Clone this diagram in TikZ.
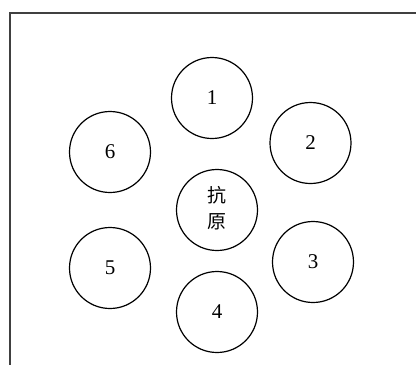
\documentclass[tikz,border=0pt]{standalone}
\usepackage{fontspec}
\setmainfont{Liberation Serif}
\newfontfamily\cjk{Noto Sans CJK SC}
\begin{document}
\begin{tikzpicture}[x=1pt,y=-1pt,
  ring/.style={circle,draw,line width=1.2pt,minimum size=81pt,inner sep=0pt,font=\fontsize{21}{23}\selectfont},
  frame/.style={line width=1.3pt,draw=black!75}]
\useasboundingbox (0,0) rectangle (416,365);
\coordinate (tr) at (416,13);
\coordinate (tl) at (10,13);
\coordinate (bl) at (10,365);
\draw[frame] (tr) -- (tl) -- (bl);
\node[ring] (c) at (217,210) {\cjk\fontsize{19}{26}\selectfont\begin{tabular}{@{}c@{}}抗\\原\end{tabular}};
\node[ring] (n1) at (212,98) {1};
\node[ring] (n2) at (310.5,143) {2};
\node[ring] (n3) at (313,262) {3};
\node[ring] (n4) at (217,312) {4};
\node[ring] (n5) at (110,268) {5};
\node[ring] (n6) at (110,152) {6};
\end{tikzpicture}
\end{document}
